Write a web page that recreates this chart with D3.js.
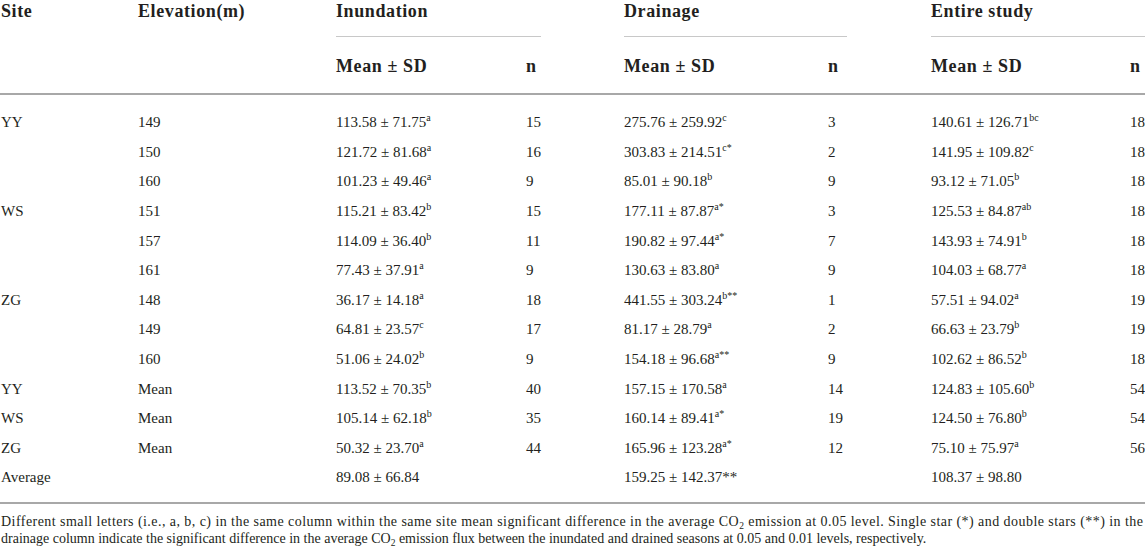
<!DOCTYPE html>
<html>
<head>
<meta charset="utf-8">
<script src="https://cdn.jsdelivr.net/npm/d3@7"></script>
<style>
  html, body { margin: 0; padding: 0; background: #fff; }
  svg text { font-family: "Liberation Serif", "DejaVu Serif", serif; fill: #231f20; }
</style>
</head>
<body>
<div id="table"></div>
<script>
// row labels
const siteLabels = ["YY", "", "", "WS", "", "", "ZG", "", "", "YY", "WS", "ZG", "Average"];
const elevations = ["149", "150", "160", "151", "157", "161", "148", "149", "160", "Mean", "Mean", "Mean", ""];

// Inundation
const inunMean = [113.58, 121.72, 101.23, 115.21, 114.09, 77.43, 36.17, 64.81, 51.06, 113.52, 105.14, 50.32, 89.08];
const inunSD   = [71.75, 81.68, 49.46, 83.42, 36.40, 37.91, 14.18, 23.57, 24.02, 70.35, 62.18, 23.70, 66.84];
const inunSig  = ["a", "a", "a", "b", "b", "a", "a", "c", "b", "b", "b", "a", ""];
const inunN    = [15, 16, 9, 15, 11, 9, 18, 17, 9, 40, 35, 44, null];

// Drainage
const drainMean = [275.76, 303.83, 85.01, 177.11, 190.82, 130.63, 441.55, 81.17, 154.18, 157.15, 160.14, 165.96, 159.25];
const drainSD   = [259.92, 214.51, 90.18, 87.87, 97.44, 83.80, 303.24, 28.79, 96.68, 170.58, 89.41, 123.28, 142.37];
const drainSig  = ["c", "c*", "b", "a*", "a*", "a", "b**", "a", "a**", "a", "a*", "a*", ""];
const drainStar = ["", "", "", "", "", "", "", "", "", "", "", "", "**"];
const drainN    = [3, 2, 9, 3, 7, 9, 1, 2, 9, 14, 19, 12, null];

// Entire study
const entireMean = [140.61, 141.95, 93.12, 125.53, 143.93, 104.03, 57.51, 66.63, 102.62, 124.83, 124.50, 75.10, 108.37];
const entireSD   = [126.71, 109.82, 71.05, 84.87, 74.91, 68.77, 94.02, 23.79, 86.52, 105.60, 76.80, 75.97, 98.80];
const entireSig  = ["bc", "c", "b", "ab", "b", "a", "a", "b", "b", "b", "b", "a", ""];
const entireN    = [18, 18, 18, 18, 18, 18, 19, 19, 18, 54, 54, 56, null];

const groupHeads = ["Inundation", "Drainage", "Entire study"];

const width = 1145, height = 549;
const fmt = d3.format(".2f");

const svg = d3.select("#table").append("svg")
    .attr("width", width)
    .attr("height", height);

// column x positions
const colX = d3.scaleOrdinal()
    .domain(["site", "elev", "g0", "n0", "g1", "n1", "g2", "n2"])
    .range([1, 138, 336, 526, 624, 828, 931, 1130]);
// end of each group's rule line
const ruleEnd = [541, 847, 1145];

const rowY = d3.scalePoint()
    .domain(d3.range(siteLabels.length))
    .range([122, 477]);

// --- header ---
const head = svg.append("g")
    .attr("font-weight", "bold")
    .attr("font-size", 18)
    .attr("letter-spacing", 0.6);
head.append("text").attr("x", colX("site")).attr("y", 17).text("Site");
head.append("text").attr("x", colX("elev")).attr("y", 17).text("Elevation(m)");
groupHeads.forEach((g, i) => {
    head.append("text").attr("x", colX("g" + i)).attr("y", 17).text(g);
    svg.append("line")
        .attr("x1", colX("g" + i)).attr("x2", ruleEnd[i])
        .attr("y1", 36.5).attr("y2", 36.5)
        .attr("stroke", "#c8c8c8").attr("stroke-width", 1);
    head.append("text").attr("x", colX("g" + i)).attr("y", 72).text("Mean \u00b1 SD");
    head.append("text").attr("x", colX("n" + i)).attr("y", 72).text("n");
});

svg.append("line").attr("x1", 0).attr("x2", width).attr("y1", 94).attr("y2", 94)
    .attr("stroke", "#a8a8a8").attr("stroke-width", 2);

// --- body ---
const groups = [
    {mean: inunMean, sd: inunSD, sig: inunSig, star: null, n: inunN},
    {mean: drainMean, sd: drainSD, sig: drainSig, star: drainStar, n: drainN},
    {mean: entireMean, sd: entireSD, sig: entireSig, star: null, n: entireN}
];

const body = svg.append("g").attr("font-size", 15);
const rows = body.selectAll("g.row")
    .data(d3.range(siteLabels.length))
    .join("g")
    .attr("class", "row")
    .attr("transform", i => `translate(0,${rowY(i)})`);

rows.append("text").attr("x", colX("site")).attr("dy", "0.35em").text(i => siteLabels[i]);
rows.append("text").attr("x", colX("elev")).attr("dy", "0.35em").text(i => elevations[i]);

groups.forEach((g, gi) => {
    const t = rows.append("text").attr("x", colX("g" + gi)).attr("dy", "0.35em");
    t.append("tspan").text(i => `${fmt(g.mean[i])} \u00b1 ${fmt(g.sd[i])}`);
    t.filter(i => g.sig[i]).append("tspan")
        .attr("font-size", 10).attr("dy", -6)
        .text(i => g.sig[i]);
    if (g.star) {
        t.filter(i => g.star[i]).append("tspan").text(i => g.star[i]);
    }
    rows.filter(i => g.n[i] != null).append("text")
        .attr("x", colX("n" + gi)).attr("dy", "0.35em")
        .text(i => g.n[i]);
});

svg.append("line").attr("x1", 0).attr("x2", width).attr("y1", 503).attr("y2", 503)
    .attr("stroke", "#a8a8a8").attr("stroke-width", 2);

// --- footnote ---
const note = svg.append("g").attr("font-size", 14);
const l1 = note.append("text").attr("x", 1).attr("y", 526)
    .attr("textLength", 1142).attr("lengthAdjust", "spacing");
l1.append("tspan").text("Different small letters (i.e., a, b, c) in the same column within the same site mean significant difference in the average CO");
l1.append("tspan").attr("font-size", 9.5).attr("dy", 3).text("2");
l1.append("tspan").attr("dy", -3).text(" emission at 0.05 level. Single star (*) and double stars (**) in the");

const l2 = note.append("text").attr("x", 1).attr("y", 543);
l2.append("tspan").text("drainage column indicate the significant difference in the average CO");
l2.append("tspan").attr("font-size", 9.5).attr("dy", 3).text("2");
l2.append("tspan").attr("dy", -3).text(" emission flux between the inundated and drained seasons at 0.05 and 0.01 levels, respectively.");
</script>
</body>
</html>
